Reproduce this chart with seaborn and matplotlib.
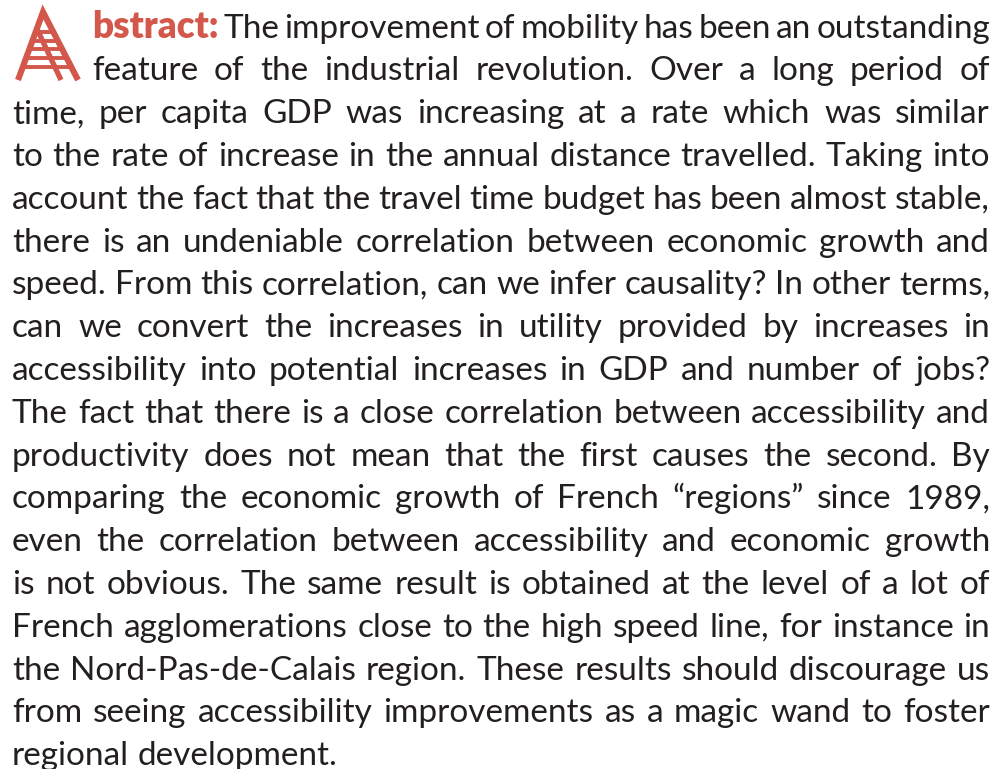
import matplotlib
matplotlib.use('Agg')
import matplotlib.pyplot as plt
import seaborn as sns

# --- TEXT (one entry per printed line, as in the reference) ---
LEAD = 'bstract:'
LINES = [
    'The improvement of mobility has been an outstanding',
    'feature of the industrial revolution. Over a long period of',
    'time, per capita GDP was increasing at a rate which was similar',
    'to the rate of increase in the annual distance travelled. Taking into',
    'account the fact that the travel time budget has been almost stable,',
    'there is an undeniable correlation between economic growth and',
    'speed. From this correlation, can we infer causality? In other terms,',
    'can we convert the increases in utility provided by increases in',
    'accessibility into potential increases in GDP and number of jobs?',
    'The fact that there is a close correlation between accessibility and',
    'productivity does not mean that the first causes the second. By',
    'comparing the economic growth of French \u201cregions\u201d since 1989,',
    'even the correlation between accessibility and economic growth',
    'is not obvious. The same result is obtained at the level of a lot of',
    'French agglomerations close to the high speed line, for instance in',
    'the Nord-Pas-de-Calais region. These results should discourage us',
    'from seeing accessibility improvements as a magic wand to foster',
    'regional development.',
]

# --- STYLE ---
INK = '#231f20'
RED = '#d4574b'
FONT_SIZE = 24
LEAD_SIZE = 26.5
LEFT, INDENT_LEFT, RIGHT = 12, 92, 990
TOP_BASELINE, LINE_STEP = 37.5, 42.8

sns.set_theme(style='white')
plt.rcParams['font.family'] = ['Lato', 'DejaVu Sans']

fig = plt.figure(figsize=(10, 7.69), dpi=100)
ax = fig.add_axes([0, 0, 1, 1])
ax.set_xlim(0, 1000)
ax.set_ylim(769, 0)
ax.axis('off')
renderer = fig.canvas.get_renderer()


def text_width(s, size=FONT_SIZE, **kw):
    t = ax.text(0, 0, s, fontsize=size, **kw)
    w = t.get_window_extent(renderer).width
    t.remove()
    return w


space_w = text_width('a b') - text_width('ab')

for i, line in enumerate(LINES):
    y = TOP_BASELINE + i * LINE_STEP
    x0 = INDENT_LEFT if i < 2 else LEFT
    tokens = [(w, dict(color=INK)) for w in line.split()]
    widths = [text_width(w, **kw) for w, kw in tokens]
    if i == 0:
        # heavy red lead-in, set tight against the first word
        lead_kw = dict(color=RED, fontweight='heavy')
        ax.text(x0, y, LEAD, fontsize=LEAD_SIZE, ha='left', va='baseline', **lead_kw)
        x0 += text_width(LEAD, size=LEAD_SIZE, **lead_kw) + space_w * 0.6
    if i == len(LINES) - 1:
        gap = space_w
    else:
        gap = (RIGHT - x0 - sum(widths)) / (len(tokens) - 1)
    x = x0
    for (w, kw), wd in zip(tokens, widths):
        ax.text(x, y, w, fontsize=FONT_SIZE, ha='left', va='baseline', **kw)
        x += wd + gap

# --- DROP-CAP ICON (ladder "A") ---
ax.plot([18, 43, 78], [80, 12, 80], color=RED, lw=4.4, solid_joinstyle='miter', solid_capstyle='butt')
ax.plot([37, 61], [29, 80], color=RED, lw=3.8, solid_capstyle='butt')
for ry in [32, 40.5, 49, 58, 67]:
    xl = 43 - (ry - 12) * 25 / 68
    xr = 43 + (ry - 12) * 35 / 68
    ax.plot([xl, xr], [ry, ry], color=RED, lw=2.8, solid_capstyle='butt')

fig.savefig('out.png', dpi=100, facecolor='white')
